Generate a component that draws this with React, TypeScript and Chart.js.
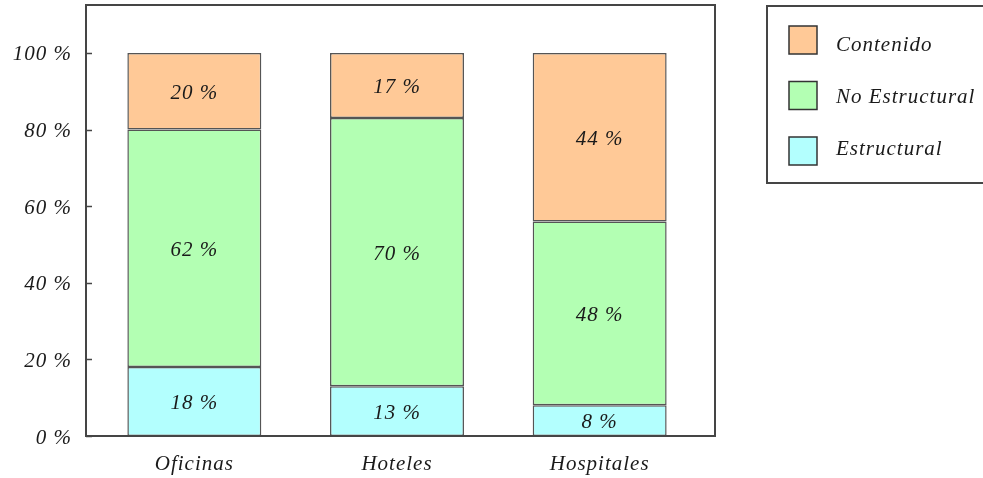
import React, { useEffect, useRef } from "react";
import { Chart, registerables } from "chart.js";

Chart.register(...registerables);

// Building types along the x axis
const CATEGORIES = ["Oficinas", "Hoteles", "Hospitales"];
// Share of cost per component (%)
const ESTRUCTURAL = [18, 13, 8];
const NO_ESTRUCTURAL = [62, 70, 48];
const CONTENIDO = [20, 17, 44];
// Labelled y values
const Y_TICKS = [0, 20, 40, 60, 80, 100];
const Y_MAX = 112.5;

const SERIES_LABELS = ["Estructural", "No Estructural", "Contenido"];
const SERIES_COLORS = ["#b3fffe", "#b3ffb3", "#ffc997"];

const FONT_FAMILY = '"Liberation Serif", "Times New Roman", serif';
const TEXT_COLOR = "#1a1a1a";
const LINE_COLOR = "#454545";

// Frame extends slightly beyond the bar area on both sides
const FRAME_PAD_LEFT = 7;
const FRAME_PAD_RIGHT = 14;

const framePlugin = {
  id: "frame",
  beforeDraw(chart: any) {
    chart.ctx.letterSpacing = "1px";
  },
  afterDraw(chart: any) {
    const { ctx, chartArea } = chart;
    const left = chartArea.left - FRAME_PAD_LEFT;
    const right = chartArea.right + FRAME_PAD_RIGHT;
    ctx.save();
    ctx.strokeStyle = LINE_COLOR;
    ctx.lineWidth = 2;
    ctx.strokeRect(left, chartArea.top, right - left, chartArea.bottom - chartArea.top);
    // inward tick marks on the value axis
    const yScale = chart.scales.y;
    ctx.lineWidth = 1.5;
    for (const v of Y_TICKS) {
      const py = Math.round(yScale.getPixelForValue(v)) + 0.5;
      ctx.beginPath();
      ctx.moveTo(left, py);
      ctx.lineTo(left + 6, py);
      ctx.stroke();
    }
    ctx.restore();
  },
};

const valueLabelPlugin = {
  id: "valueLabels",
  afterDatasetsDraw(chart: any) {
    const { ctx } = chart;
    ctx.save();
    ctx.font = `italic 21px ${FONT_FAMILY}`;
    ctx.fillStyle = TEXT_COLOR;
    ctx.textAlign = "center";
    ctx.textBaseline = "middle";
    chart.data.datasets.forEach((ds: any, di: number) => {
      const meta = chart.getDatasetMeta(di);
      meta.data.forEach((el: any, i: number) => {
        const { x, y, base } = el.getProps(["x", "y", "base"], true);
        ctx.fillText(`${ds.data[i]} %`, x, (y + base) / 2 + 2);
      });
    });
    ctx.restore();
  },
};

const legendPlugin = {
  id: "boxLegend",
  afterDraw(chart: any) {
    const { ctx } = chart;
    const boxLeft = 767;
    const boxTop = 6;
    const boxBottom = 183;
    ctx.save();
    ctx.strokeStyle = LINE_COLOR;
    ctx.lineWidth = 2;
    ctx.strokeRect(boxLeft, boxTop, chart.width + 10 - boxLeft, boxBottom - boxTop);
    ctx.font = `italic 21px ${FONT_FAMILY}`;
    ctx.textAlign = "left";
    ctx.textBaseline = "middle";
    const order = [2, 1, 0];
    order.forEach((di, row) => {
      const ds = chart.data.datasets[di];
      const sx = 789;
      const sy = 26 + row * 55.5;
      ctx.fillStyle = ds.backgroundColor;
      ctx.fillRect(sx, sy, 28, 28);
      ctx.strokeStyle = "#333";
      ctx.lineWidth = 1.5;
      ctx.strokeRect(sx, sy, 28, 28);
      ctx.fillStyle = TEXT_COLOR;
      ctx.fillText(ds.label, 836, 45 + row * 52);
    });
    ctx.restore();
  },
};

export default function App() {
  const canvasRef = useRef<HTMLCanvasElement | null>(null);

  useEffect(() => {
    if (!canvasRef.current) return;
    const seriesData = [ESTRUCTURAL, NO_ESTRUCTURAL, CONTENIDO];
    const chart = new Chart(canvasRef.current, {
      type: "bar",
      data: {
        labels: CATEGORIES,
        datasets: seriesData.map((d, i) => ({
          label: SERIES_LABELS[i],
          data: d,
          backgroundColor: SERIES_COLORS[i],
          borderColor: "#555",
          borderWidth: 1.5,
          borderSkipped: false,
          categoryPercentage: 1,
          barPercentage: 0.661,
        })),
      },
      options: {
        responsive: false,
        animation: false,
        layout: { padding: { left: 0, right: 282, top: 5, bottom: 0 } },
        plugins: {
          legend: { display: false },
          tooltip: { enabled: false },
        },
        scales: {
          x: {
            stacked: true,
            grid: { display: false, drawTicks: false },
            border: { display: false },
            ticks: {
              color: TEXT_COLOR,
              font: { family: FONT_FAMILY, size: 21, style: "italic" },
              padding: 16,
            },
            afterFit(scale: any) {
              scale.height = 42;
              scale.paddingLeft = 0;
              scale.paddingRight = 0;
            },
          },
          y: {
            stacked: true,
            min: 0,
            max: Y_MAX,
            grid: { display: false, drawTicks: false },
            border: { display: false },
            ticks: {
              stepSize: 20,
              color: TEXT_COLOR,
              font: { family: FONT_FAMILY, size: 21, style: "italic" },
              padding: 21,
              labelOffset: 2,
              callback: (v: any) => `${v} %`,
            },
            afterBuildTicks(scale: any) {
              scale.ticks = Y_TICKS.map((v) => ({ value: v }));
            },
            afterFit(scale: any) {
              scale.width = 93;
              scale.paddingTop = 0;
              scale.paddingBottom = 0;
            },
          },
        },
      },
      plugins: [framePlugin, valueLabelPlugin, legendPlugin],
    });
    return () => chart.destroy();
  }, []);

  return (
    <div style={{ position: "absolute", left: 0, top: 0, width: 983, height: 478, background: "#fff" }}>
      <canvas ref={canvasRef} width={983} height={478} style={{ display: "block" }} />
    </div>
  );
}
